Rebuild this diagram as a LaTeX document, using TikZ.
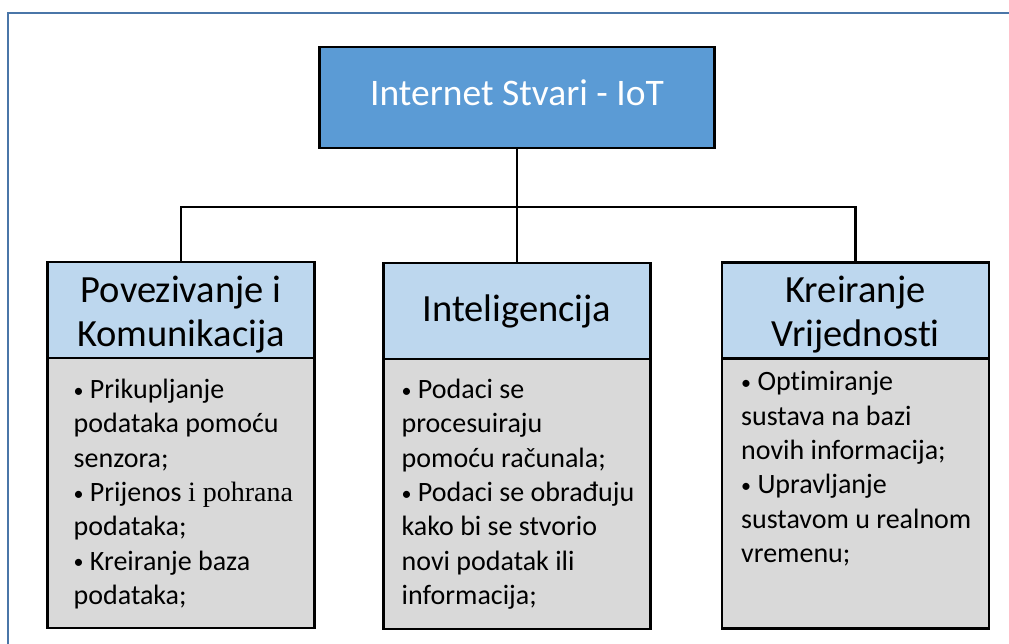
\documentclass[tikz,border=0pt]{standalone}
\usepackage{fontspec}
\setmainfont{Carlito}[Ligatures=NoCommon]
\newfontfamily\timesfont{Liberation Serif}
\usetikzlibrary{positioning}
\definecolor{topblue}{RGB}{91,155,213}
\definecolor{headblue}{RGB}{189,215,238}
\definecolor{bodygray}{RGB}{217,217,217}
\definecolor{framecol}{RGB}{74,118,168}
\newcommand{\bul}{{\fontsize{20}{20}\selectfont\raisebox{1.5pt}{•}}}
\tikzstyle{topbox} = [draw=black,line width=2.6pt,outer sep=0pt,fill=topblue,text=white,minimum width=395pt,minimum height=101pt,text depth=9pt,font=\fontsize{37.5}{44}\selectfont]
\tikzstyle{headbox} = [draw=black,line width=2.6pt,outer sep=0pt,fill=headblue,minimum width=267pt,minimum height=96pt,align=center,font=\fontsize{38.5}{44}\selectfont]
\tikzstyle{twolines} = [text height=72pt,text depth=0pt]
\tikzstyle{bodybox} = [draw=black,line width=2.6pt,outer sep=0pt,fill=bodygray,minimum width=267pt,minimum height=270pt]
\tikzstyle{bodytext} = [inner sep=0pt,align=left,font=\fontsize{28}{34.3}\selectfont]
\tikzstyle{link} = [draw,line width=2.6pt]

\begin{document}
\begin{tikzpicture}[x=1pt,y=-1pt]
 \useasboundingbox (0,0) rectangle (1009,643);
 \draw[framecol,line width=2pt] (8,650) -- (8,13) -- (1015,13);

 \node[topbox] (iot) at (517,97.5) {Internet Stvari - IoT};

 \node[headbox,twolines] (pov) at (181,310) {Povezivanje i\\Komunikacija};
 \node[headbox] (intel) at (517,311) {Inteligencija};
 \node[headbox,twolines] (kreir) at (855.5,310.5) {Kreiranje\\Vrijednosti};

 \node[bodybox,below=0pt of pov] (povbody) {};
 \node[bodybox,below=0pt of intel] (intelbody) {};
 \node[bodybox,below=0pt of kreir] (kreirbody) {};

 % tekst u sivim poljima
 \node[bodytext,below right=21pt and 26pt of povbody.north west] (povtext)
  {\bul{} Prikupljanje\\podataka pomoću\\senzora;\\\bul{} Prijenos {\timesfont i pohrana}\\podataka;\\\bul{} Kreiranje baza\\podataka;};
 \node[bodytext,below right=20pt and 18pt of intelbody.north west] (inteltext)
  {\bul{} Podaci se\\procesuiraju\\pomoću računala;\\\bul{} Podaci se obrađuju\\kako bi se stvorio\\novi podatak ili\\informacija;};
 \node[bodytext,below right=13pt and 19pt of kreirbody.north west] (kreirtext)
  {\bul{} Optimiranje\\sustava na bazi\\novih informacija;\\\bul{} Upravljanje\\sustavom u realnom\\vremenu;};

 % veze
 \coordinate (bus) at (517,207);
 \path[link] (iot.south) -- (bus);
 \path[link] (pov.north) |- (bus) -| (kreir.north);
 \path[link] (intel.north) -- (intel.north |- bus);

\end{tikzpicture}
\end{document}
